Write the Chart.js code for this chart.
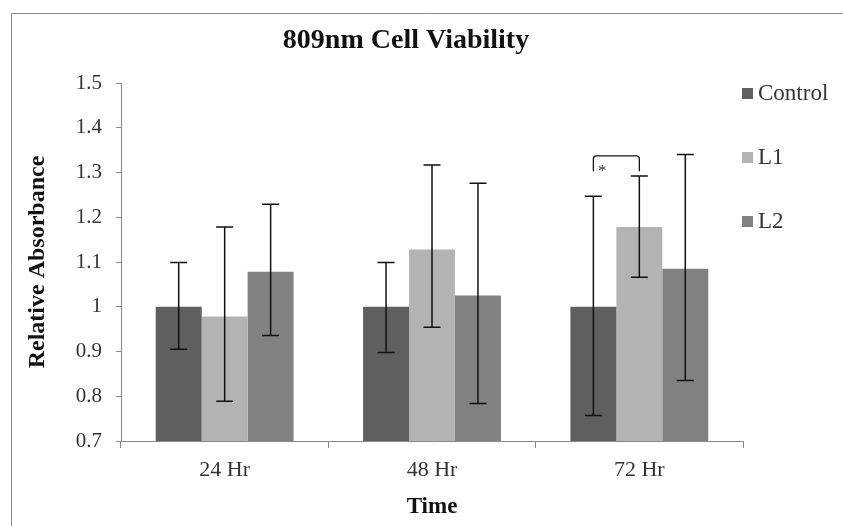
<!DOCTYPE html>
<html>
<head>
<meta charset="utf-8">
<script src="https://cdn.jsdelivr.net/npm/chart.js@4"></script>
<style>
  html,body{margin:0;padding:0;background:#fff;}
  #wrap{position:relative;width:843px;height:526px;}
</style>
</head>
<body>
<div id="wrap"><canvas id="viability"></canvas></div>
<script>
// data
const categories=["24 Hr","48 Hr","72 Hr"];
const seriesNames=["Control","L1","L2"];
const control=[1.0,1.0,1.0];
const l1=[0.978,1.128,1.178];
const l2=[1.078,1.025,1.085];
const controlLow=[0.905,0.898,0.757];
const controlHigh=[1.099,1.099,1.247];
const l1Low=[0.789,0.954,1.066];
const l1High=[1.178,1.317,1.292];
const l2Low=[0.936,0.784,0.835];
const l2High=[1.229,1.276,1.34];
const yTicks=[0.7,0.8,0.9,1,1.1,1.2,1.3,1.4,1.5];

const colors=["#5f5f5f","#b3b3b3","#818181"];
const lows=[controlLow,l1Low,l2Low];
const highs=[controlHigh,l1High,l2High];
const serif="'Liberation Serif', 'Times New Roman', serif";

// error bars, significance bracket, title, legend, frame
const extras={
  id:"extras",
  afterDatasetsDraw(chart){
    const c=chart.ctx, y=chart.scales.y;
    c.save();
    c.strokeStyle="#111";
    c.lineWidth=1.5;
    chart.data.datasets.forEach((ds,i)=>{
      chart.getDatasetMeta(i).data.forEach((bar,j)=>{
        const top=y.getPixelForValue(highs[i][j]);
        const bot=y.getPixelForValue(lows[i][j]);
        c.beginPath();
        c.moveTo(bar.x,top);c.lineTo(bar.x,bot);
        c.moveTo(bar.x-8.5,top);c.lineTo(bar.x+8.5,top);
        c.moveTo(bar.x-8.5,bot);c.lineTo(bar.x+8.5,bot);
        c.stroke();
      });
    });
    // bracket 72 Hr Control vs L1
    const xa=chart.getDatasetMeta(0).data[2].x;
    const xb=chart.getDatasetMeta(1).data[2].x;
    const yt=y.getPixelForValue(1.337), yl=y.getPixelForValue(1.303);
    c.lineWidth=1.3;
    c.beginPath();
    c.moveTo(xa,yl);c.lineTo(xa,yt+3);c.quadraticCurveTo(xa,yt,xa+3,yt);
    c.lineTo(xb-3,yt);c.quadraticCurveTo(xb,yt,xb,yt+3);c.lineTo(xb,yl);
    c.stroke();
    c.fillStyle="#333";
    c.font="17px "+serif;
    c.textAlign="center";c.textBaseline="middle";
    c.fillText("*",xa+9,y.getPixelForValue(1.303));
    c.restore();
  },
  afterDraw(chart){
    const c=chart.ctx;
    c.save();
    // frame
    c.strokeStyle="#8a8a8a";c.lineWidth=1;
    c.beginPath();c.moveTo(11.5,chart.height);c.lineTo(11.5,13.5);c.lineTo(chart.width,13.5);c.stroke();
    // title
    c.fillStyle="#111";
    c.font="bold 28px "+serif;
    c.textAlign="center";c.textBaseline="middle";
    c.fillText("809nm Cell Viability",406,41);
    // legend
    c.font="23px "+serif;
    c.textAlign="left";
    chart.data.datasets.forEach((ds,i)=>{
      const cy=94+i*64;
      c.fillStyle=ds.backgroundColor;
      c.fillRect(742,cy-6,11,11);
      c.fillStyle="#333";
      c.fillText(ds.label,758,cy);
    });
    c.restore();
  }
};

new Chart(document.getElementById("viability"),{
  type:"bar",
  data:{
    labels:categories,
    datasets:[
      {label:seriesNames[0],data:control,backgroundColor:colors[0]},
      {label:seriesNames[1],data:l1,backgroundColor:colors[1]},
      {label:seriesNames[2],data:l2,backgroundColor:colors[2]},
    ],
  },
  options:{
    responsive:true,
    maintainAspectRatio:false,
    animation:false,
    categoryPercentage:0.665,
    barPercentage:1,
    layout:{padding:{top:83,right:100,left:0,bottom:0}},
    plugins:{
      legend:{display:false},
      title:{display:false},
      tooltip:{enabled:false},
    },
    scales:{
      x:{
        afterFit(s){s.height=85;},
        grid:{drawOnChartArea:false,offset:true,tickLength:7,color:"#8a8a8a"},
        border:{color:"#8a8a8a"},
        ticks:{color:"#333",padding:9,font:{family:serif,size:22}},
        title:{display:true,text:"Time",color:"#111",padding:{top:6,bottom:5},font:{family:serif,size:23,weight:"bold"}},
      },
      y:{
        min:0.7,
        max:1.5,
        afterFit(s){s.width=121;},
        afterBuildTicks(s){s.ticks=yTicks.map(v=>({value:v}));},
        grid:{drawOnChartArea:false,tickLength:5,color:"#8a8a8a"},
        border:{color:"#8a8a8a"},
        ticks:{color:"#333",padding:14,font:{family:serif,size:21},callback:v=>String(+v.toFixed(1))},
        title:{display:true,text:"Relative Absorbance",color:"#111",padding:{top:23,bottom:0},font:{family:serif,size:24,weight:"bold"}},
      },
    },
  },
  plugins:[extras],
});
</script>
</body>
</html>
